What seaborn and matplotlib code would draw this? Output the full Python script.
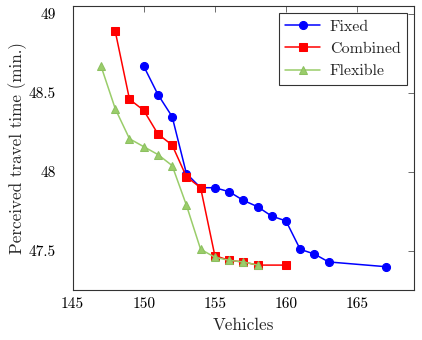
import matplotlib
matplotlib.use("Agg")
import matplotlib.pyplot as plt
import seaborn as sns
import pandas as pd

fixed_x = [150, 151, 152, 153, 154, 155, 156, 157, 158, 159, 160, 161, 162, 163, 167]
fixed_y = [48.67, 48.49, 48.35, 47.99, 47.90, 47.90, 47.875, 47.82, 47.78, 47.72, 47.69, 47.51, 47.48, 47.43, 47.40]
comb_x = [148, 149, 150, 151, 152, 153, 154, 155, 156, 157, 158, 160]
comb_y = [48.89, 48.46, 48.39, 48.24, 48.17, 47.97, 47.90, 47.47, 47.44, 47.43, 47.41, 47.41]
flex_x = [147, 148, 149, 150, 151, 152, 153, 154, 155, 156, 157, 158]
flex_y = [48.67, 48.40, 48.21, 48.16, 48.11, 48.04, 47.79, 47.51, 47.46, 47.44, 47.43, 47.41]
series = ["Fixed", "Combined", "Flexible"]
x_ticks = [145, 150, 155, 160, 165]
y_ticks = [47.5, 48, 48.5, 49]
y_tick_labels = ["47.5", "48", "48.5", "49"]

sns.set_style("white")
plt.rcParams["font.family"] = ["cmr10", "DejaVu Serif"]
plt.rcParams["axes.formatter.use_mathtext"] = True
plt.rcParams["mathtext.fontset"] = "cm"

frames = []
for name, xs, ys in [("Fixed", fixed_x, fixed_y), ("Combined", comb_x, comb_y), ("Flexible", flex_x, flex_y)]:
    frames.append(pd.DataFrame({"Vehicles": xs, "Time": ys, "Series": name}))
df = pd.concat(frames, ignore_index=True)

palette = {"Fixed": "#0000FF", "Combined": "#FF0000", "Flexible": "#9ACD6A"}
markers = {"Fixed": "o", "Combined": "s", "Flexible": "^"}
edge = {"Fixed": "#0000FF", "Combined": "#FF0000", "Flexible": "#8CC060"}

fig = plt.figure(figsize=(4.22, 3.40), dpi=100)
ax = fig.add_axes([0.172, 0.146, 0.809, 0.836])

for name in series:
    sub = df[df.Series == name]
    sns.lineplot(data=sub, x="Vehicles", y="Time", ax=ax, sort=False, color=palette[name],
                 marker=markers[name], markersize=5.8, markeredgecolor=edge[name],
                 linewidth=1.1, label=name)

ax.set_xlim(145, 169)
ax.set_ylim(47.25, 49.05)
ax.set_xticks(x_ticks)
ax.set_yticks(y_ticks)
ax.set_xticklabels([str(t) for t in x_ticks])
ax.set_yticklabels(y_tick_labels)
ax.tick_params(direction="in", length=4, width=0.6, top=True, right=True, labelsize=11,
               colors="#555555", labelcolor="black")
ax.tick_params(axis="x", pad=5)
ax.tick_params(axis="y", pad=12)
for s in ax.spines.values():
    s.set_color("#333333")
    s.set_linewidth(0.8)
ax.set_xlabel("Vehicles", fontsize=12.3, labelpad=5)
ax.set_ylabel("Perceived travel time (min.)", fontsize=12.3, labelpad=1)

leg = ax.legend(loc="upper right", fontsize=11.5, frameon=True, fancybox=False, edgecolor="black",
                borderaxespad=0.45, handlelength=2.2, labelspacing=0.5, borderpad=0.4,
                handletextpad=0.6)
leg.get_frame().set_linewidth(0.8)

fig.savefig("out.png", dpi=100)
